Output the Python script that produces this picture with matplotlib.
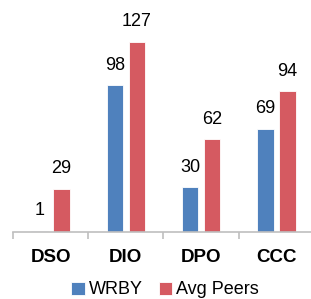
import matplotlib
matplotlib.use('Agg')
import matplotlib.pyplot as plt
import numpy as np

plt.rcParams['font.family'] = ['Liberation Sans', 'DejaVu Sans']

categories = ['DSO', 'DIO', 'DPO', 'CCC']
wrby = [1, 98, 30, 69]
peers = [29, 127, 62, 94]
series_names = ['WRBY', 'Avg Peers']

blue = '#4F81BD'
red = '#D55A61'

fig = plt.figure(figsize=(3.11, 2.99), dpi=100)
ax = fig.add_axes([13 / 311, 67 / 299, 301 / 311, 232 / 299])

x = np.arange(len(categories))
w = 0.22
off = 0.145
b1 = ax.bar(x - off, wrby, w, color=blue, edgecolor='white', linewidth=0.6, label=series_names[0])
b2 = ax.bar(x + off, peers, w, color=red, edgecolor='white', linewidth=0.6, label=series_names[1])

for bars, vals in ((b1, wrby), (b2, peers)):
    for b, v in zip(bars, vals):
        ax.annotate(str(v), (b.get_x() + b.get_width() / 2, v), xytext=(0, 8),
                    textcoords='offset points', ha='center', va='bottom', fontsize=13)

ax.set_xlim(-0.5, 3.5)
ax.set_ylim(0, 154.7)
ax.set_yticks([])
for s in ['left', 'right', 'top']:
    ax.spines[s].set_visible(False)
ax.spines['bottom'].set_color('#BFBFBF')
ax.spines['bottom'].set_linewidth(1.2)

ax.set_xticks(x)
ax.set_xticklabels(categories, fontsize=13.5, fontweight='bold')
ax.tick_params(axis='x', which='major', length=0, pad=12)
ax.set_xticks(np.arange(-0.5, 4, 1), minor=True)
ax.tick_params(axis='x', which='minor', length=5, color='#BFBFBF', width=1.2)

fig.legend(handles=[b1, b2], loc='center', bbox_to_anchor=(165 / 311, 1 - 290 / 299),
           ncol=2, frameon=False, fontsize=13, handlelength=0.75, handleheight=0.75,
           handletextpad=0.2, columnspacing=0.9, borderpad=0)

fig.savefig('out.png', dpi=100)
